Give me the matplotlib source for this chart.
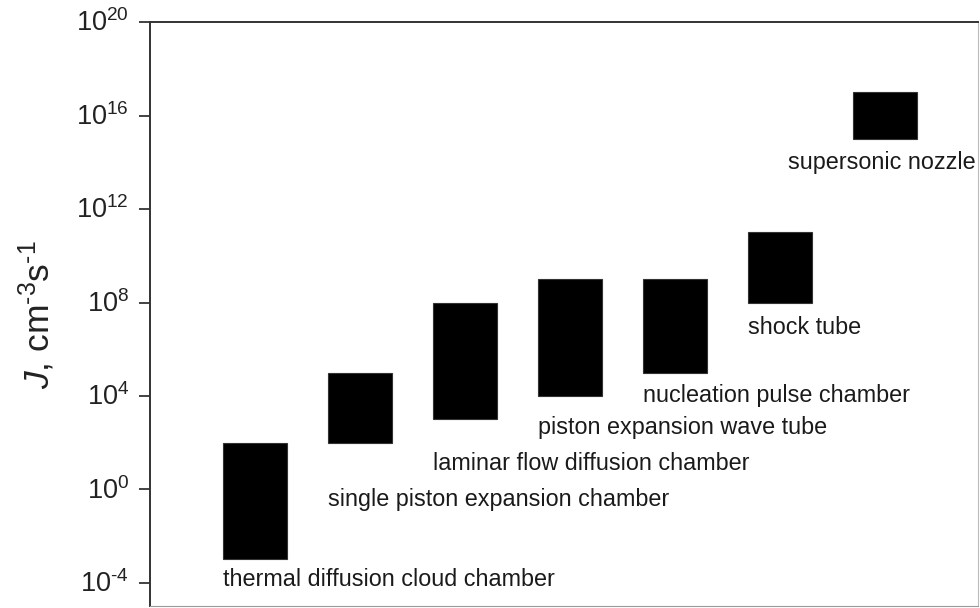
import numpy as np
import matplotlib
matplotlib.use('Agg')
import matplotlib.pyplot as plt
import matplotlib.transforms as mtransforms

# Nucleation-rate ranges of the experimental methods (log10 of J, cm^-3 s^-1)
METHODS = ['thermal diffusion cloud chamber',
           'single piston expansion chamber',
           'laminar flow diffusion chamber',
           'piston expansion wave tube',
           'nucleation pulse chamber',
           'shock tube',
           'supersonic nozzle']
LOG_J_LOW = [-3, 2, 3, 4, 5, 8, 15]
LOG_J_HIGH = [2, 5, 8, 9, 9, 11, 17]
# where each method's name sits (log10 J of the text baseline)
LABEL_AT = [-4.13, -0.72, 0.81, 2.38, 3.74, 6.64, 13.7]
YTICK_EXP = [-4, 0, 4, 8, 12, 16, 20]

plt.rcParams['font.family'] = ['Liberation Sans', 'DejaVu Sans']
plt.rcParams['mathtext.fontset'] = 'custom'
plt.rcParams['mathtext.rm'] = 'Liberation Sans'
plt.rcParams['mathtext.it'] = 'Liberation Sans:italic'

fig = plt.figure(figsize=(9.8, 6.08), dpi=100)
ax = fig.add_axes([0.153, 0.003, 0.845, 0.9605])

x = np.arange(1, len(METHODS) + 1)
low = 10.0 ** np.array(LOG_J_LOW, dtype=float)
high = 10.0 ** np.array(LOG_J_HIGH, dtype=float)
w = 0.61
ax.bar(x, high - low, bottom=low, width=w, color='black',
       edgecolor='#333333', linewidth=0.8)

ax.set_yscale('log')
ax.set_ylim(10.0 ** -5, 10.0 ** 20)
ax.set_xlim(0, 7.89)

for i, name in enumerate(METHODS):
    yl = 10.0 ** LABEL_AT[i]
    if i == len(METHODS) - 1:
        ax.text(x[i] - 0.03, yl, name, ha='center', va='baseline',
                fontsize=16.8, color='#1a1a1a')
    else:
        ax.text(x[i] - w / 2, yl, name, ha='left', va='baseline',
                fontsize=16.8, color='#1a1a1a')

# hyphen rather than a minus sign in the exponents
def exp_label(e):
    s = str(e).replace('-', r'\text{-}')
    return r'$10^{%s}$' % s

ax.set_yticks([10.0 ** e for e in YTICK_EXP])
ax.set_yticklabels([exp_label(e) for e in YTICK_EXP])
ax.yaxis.set_minor_locator(matplotlib.ticker.NullLocator())
ax.tick_params(axis='y', direction='out', length=8, width=1.2,
               labelsize=19.5, pad=7, colors='#222222')
ax.set_xticks([])
shift = mtransforms.ScaledTranslation(0, 1.2 / 72, fig.dpi_scale_trans)
for lab in ax.get_yticklabels():
    lab.set_transform(lab.get_transform() + shift)

ax.set_ylabel(r'$J$, cm$^{\text{-}3}$s$^{\text{-}1}$', fontsize=25.5,
              color='#222222')
ax.yaxis.set_label_coords(-0.112, 0.5)

ax.spines['left'].set_linewidth(1.4)
ax.spines['left'].set_color('#333333')
ax.spines['top'].set_linewidth(1.4)
ax.spines['top'].set_color('#333333')
ax.spines['right'].set_color('#bbbbbb')
ax.spines['bottom'].set_color('#999999')

fig.savefig('out.png', dpi=100)
